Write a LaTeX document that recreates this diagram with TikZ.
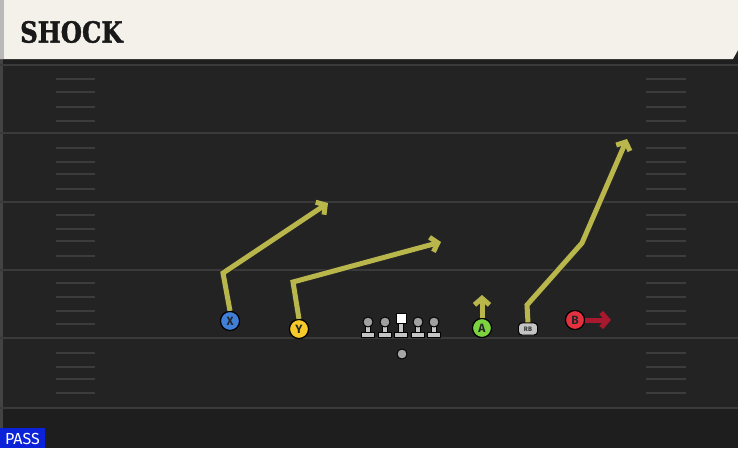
\documentclass[tikz,border=0pt]{standalone}
\usepackage{fontspec}
\usetikzlibrary{arrows.meta}
\newfontfamily\titlefont{DejaVu Serif Bold}[FakeBold=1.6]
\newfontfamily\labelfont{Fira Sans}
\definecolor{field}{HTML}{232323}
\definecolor{fielddark}{HTML}{1E1E1E}
\definecolor{yardline}{HTML}{3A3A3A}
\definecolor{hashc}{HTML}{3C3C3C}
\definecolor{header}{HTML}{F4F1EA}
\definecolor{route}{HTML}{B9B74B}
\definecolor{blockred}{HTML}{A8182E}
\definecolor{pblue}{HTML}{3F7FD8}
\definecolor{pyellow}{HTML}{F5C92A}
\definecolor{pgreen}{HTML}{7BD43F}
\definecolor{pred}{HTML}{E5303F}
\definecolor{passblue}{HTML}{0B22D8}
\definecolor{linegray}{HTML}{C4C4C4}
\tikzset{
  player/.style={circle, draw=black, line width=1.1pt, minimum size=19pt, inner sep=0pt,
    font=\labelfont\bfseries\fontsize{12}{12}\selectfont, text=black!85},
  rbtoken/.style={draw=black, line width=0.9pt, fill=linegray, rounded corners=3.5pt,
    minimum width=19pt, minimum height=12pt, inner sep=0pt,
    font=\labelfont\bfseries\fontsize{6.5}{6.5}\selectfont, text=black!80},
  routeline/.style={route, line width=5pt, line join=miter,
    -{Straight Barb[length=6.5pt,width=15pt]},
    preaction={draw=black!85, line width=6.8pt, -{Straight Barb[length=6.5pt,width=15pt]}}},
  blockline/.style={blockred, line width=5pt,
    -{Straight Barb[length=6.5pt,width=15pt]}},
  hashmark/.style={hashc, line width=1.8pt},
  yard/.style={yardline, line width=2.4pt},
  pics/lineman/.style={code={
    \draw[black, line width=0.9pt, fill=linegray] (-2.4,2) rectangle (2.4,10);
    \draw[black, line width=0.9pt, fill=linegray] (-6.8,10) rectangle (6.8,15.5);
    \draw[black, line width=0.9pt, fill=gray!75] (0,0) circle (5);
  }},
  pics/centerman/.style={code={
    \draw[black, line width=0.9pt, fill=linegray] (-2.4,1) rectangle (2.4,10);
    \draw[black, line width=0.9pt, fill=linegray] (-6.8,10) rectangle (6.8,15.5);
    \draw[black, line width=0.9pt, fill=white] (-5,-9) rectangle (5,1.5);
  }}
}
\begin{document}
\begin{tikzpicture}[x=1pt,y=-1pt]
\useasboundingbox (0,0) rectangle (738,448);
% background
\fill[field] (0,0) rectangle (738,448);
\fill[fielddark] (0,408) rectangle (738,448);
\fill[black!88] (0,59) rectangle (738,65);
\fill[gray!35!field] (0,59) rectangle (3,448);
% yard lines
\foreach \y in {65,133,202,270,338,408}
  \draw[yard] (0,\y) -- (738,\y);
% hash marks
\foreach \y in {79,92,107,121,148,162,174,189,215,229,241,256,283,297,311,324,353,367,379,393}{
  \draw[hashmark] (56,\y) -- (95,\y);
  \draw[hashmark] (646,\y) -- (686,\y);
}
% header
\fill[header] (0,0) -- (738,0) -- (738,50) -- (733,59) -- (0,59) -- cycle;
\fill[gray!55] (0,0) rectangle (4,59);
\node[anchor=west, inner sep=0pt, text=black!90, font=\titlefont\fontsize{29}{29}\selectfont] (title) at (20,32) {\scalebox{0.84}[1]{SHOCK}};
% pass label
\fill[passblue] (0,428) rectangle (45,448);
\node[inner sep=0pt, text=white, font=\labelfont\fontsize{16}{16}\selectfont] (pass) at (22.5,438.5) {PASS};
% line
\pic at (368,322) {lineman};
\pic at (385,322) {lineman};
\pic at (401,322) {centerman};
\pic at (418,322) {lineman};
\pic at (434,322) {lineman};
\node[circle, draw=black, line width=0.9pt, fill=gray!70, minimum size=10pt, inner sep=0pt] (qb) at (402,354) {};
% route coordinates
\coordinate (xb) at (223,273);
\coordinate (xt) at (328,203);
\coordinate (yb) at (293,282);
\coordinate (yt) at (441,242);
\coordinate (at) at (482,295);
\coordinate (rb1) at (527,305);
\coordinate (rb2) at (582,243);
\coordinate (rbt) at (627,139);
\coordinate (bt) at (611,320);
% players
\node[player, fill=pblue] (X) at (230,321) {X};
\node[player, fill=pyellow] (Y) at (299,329) {Y};
\node[player, fill=pgreen] (A) at (482,328) {A};
\node[player, fill=pred] (B) at (575,320) {B};
\node[rbtoken] (RB) at (528,329) {RB};
% routes
\draw[routeline] (X.north) -- (xb) -- (xt);
\draw[routeline] (Y.north) -- (yb) -- (yt);
\draw[routeline] (A.north) -- (at);
\draw[routeline] (RB.north) -- (rb1) -- (rb2) -- (rbt);
\draw[blockline] (B.east) -- (bt);
% player tokens on top of the route starts
\node[player, fill=pblue] at (X) {X};
\node[player, fill=pyellow] at (Y) {Y};
\node[player, fill=pgreen] at (A) {A};
\node[player, fill=pred] at (B) {B};
\node[rbtoken] at (RB) {RB};
\end{tikzpicture}
\end{document}
